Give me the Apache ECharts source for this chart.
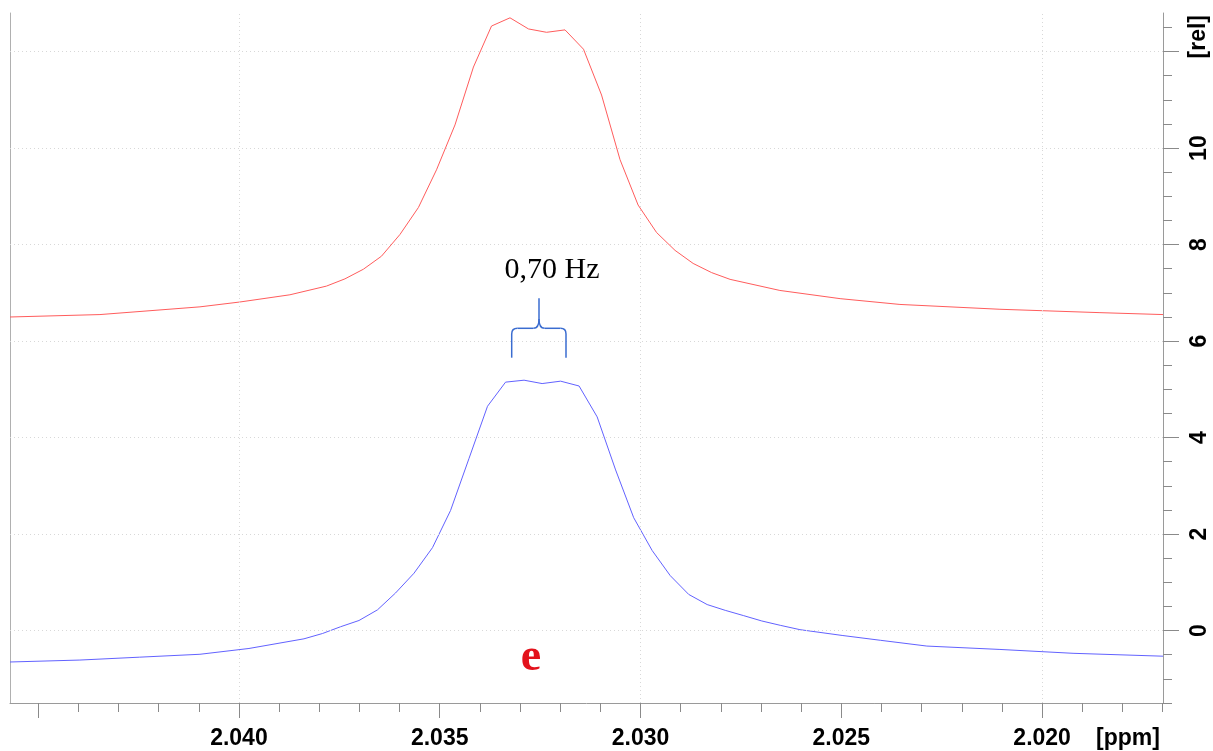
<!DOCTYPE html>
<html>
<head>
<meta charset="utf-8">
<script src="https://cdn.jsdelivr.net/npm/echarts@6/dist/echarts.min.js"></script>
<style>
html,body{margin:0;padding:0;background:#fff;}
#chart{width:1213px;height:751px;}
</style>
</head>
<body>
<div id="chart"></div>
<script>
// ---- data (ppm, relative intensity) ----
const ppmRed = [2.04570, 2.04346, 2.04097, 2.03998, 2.03873, 2.03782, 2.03736, 2.03690, 2.03645, 2.03599,
  2.03553, 2.03508, 2.03462, 2.03416, 2.03371, 2.03325, 2.03279, 2.03234, 2.03188, 2.03142,
  2.03097, 2.03051, 2.03006, 2.02960, 2.02914, 2.02869, 2.02823, 2.02777, 2.02653, 2.02503,
  2.02354, 2.02105, 2.01856, 2.01699];
const valRed = [6.50, 6.55, 6.71, 6.81, 6.96, 7.14, 7.29, 7.49, 7.76, 8.21,
  8.77, 9.55, 10.48, 11.68, 12.53, 12.70, 12.47, 12.40, 12.45, 12.05,
  11.10, 9.76, 8.82, 8.25, 7.88, 7.61, 7.42, 7.28, 7.05, 6.88,
  6.76, 6.66, 6.59, 6.55];

const ppmBlue = [2.04570, 2.04396, 2.04247, 2.04097, 2.03975, 2.03838, 2.03792, 2.03747, 2.03701, 2.03655,
  2.03610, 2.03564, 2.03518, 2.03473, 2.03427, 2.03381, 2.03336, 2.03290, 2.03245, 2.03199,
  2.03153, 2.03108, 2.03062, 2.03017, 2.02971, 2.02926, 2.02880, 2.02834, 2.02789, 2.02743,
  2.02698, 2.02652, 2.02603, 2.02498, 2.02403, 2.02287, 2.02105, 2.01923, 2.01699];
const valBlue = [-0.65, -0.61, -0.55, -0.49, -0.37, -0.17, -0.06, 0.08, 0.21, 0.43,
  0.78, 1.19, 1.72, 2.49, 3.57, 4.65, 5.15, 5.19, 5.12, 5.17,
  5.07, 4.43, 3.33, 2.34, 1.66, 1.14, 0.75, 0.54, 0.42, 0.31,
  0.20, 0.11, 0.02, -0.10, -0.20, -0.32, -0.39, -0.47, -0.53];

const xMajorTicks = [2.045, 2.040, 2.035, 2.030, 2.025, 2.020];
const xLabelValues = [2.040, 2.035, 2.030, 2.025, 2.020];
const xMinorTicks = [2.045, 2.044, 2.043, 2.042, 2.041, 2.040, 2.039, 2.038, 2.037, 2.036, 2.035,
  2.034, 2.033, 2.032, 2.031, 2.030, 2.029, 2.028, 2.027, 2.026, 2.025,
  2.024, 2.023, 2.022, 2.021, 2.020, 2.019, 2.018, 2.017];
const yMajorTicks = [0, 2, 4, 6, 8, 10, 12];
const yLabelValues = [0, 2, 4, 6, 8, 10];
const yMinorTicks = [-1.5, -1, -0.5, 0, 0.5, 1, 1.5, 2, 2.5, 3, 3.5, 4, 4.5, 5, 5.5, 6, 6.5, 7, 7.5,
  8, 8.5, 9, 9.5, 10, 10.5, 11, 11.5, 12, 12.5];

const X_MIN = 2.01699, X_MAX = 2.04570, Y_MIN = -1.5, Y_MAX = 12.8;

const zip = (a, b) => a.map((v, i) => [v, b[i]]);

const chart = echarts.init(document.getElementById('chart'), null, {renderer: 'canvas'});
const axisColor = '#9a9a9a';
const tickColor = '#8a8a8a';
const labelFont = {fontFamily: '"Liberation Sans", Arial, sans-serif', fontWeight: 'bold', fontSize: 23, color: '#000'};

const option = {
  animation: false,
  backgroundColor: '#fff',
  grid: {left: 10, right: 50, top: 13, bottom: 48, containLabel: false},
  xAxis: [
    {
      type: 'value', inverse: true, min: X_MIN, max: X_MAX, position: 'bottom',
      axisLine: {show: true, onZero: false, lineStyle: {color: axisColor, width: 1}},
      axisTick: {show: true, customValues: xMajorTicks, length: 15, lineStyle: {color: tickColor}},
      axisLabel: Object.assign({show: true, customValues: xLabelValues, margin: 24,
        formatter: v => Number(v).toFixed(3)}, labelFont),
      splitLine: {show: false}
    },
    {
      type: 'value', inverse: true, min: X_MIN, max: X_MAX, position: 'bottom',
      axisLine: {show: false, onZero: false},
      axisTick: {show: true, customValues: xMinorTicks, length: 9, lineStyle: {color: tickColor}},
      axisLabel: {show: false},
      splitLine: {show: false}
    }
  ],
  yAxis: [
    {
      type: 'value', min: Y_MIN, max: Y_MAX, position: 'right',
      axisLine: {show: true, onZero: false, lineStyle: {color: axisColor, width: 1}},
      axisTick: {show: true, customValues: yMajorTicks, length: 16, lineStyle: {color: tickColor}},
      axisLabel: Object.assign({show: true, customValues: yLabelValues, margin: 25, rotate: 90,
        formatter: v => String(v)}, labelFont),
      splitLine: {show: false}
    },
    {
      type: 'value', min: Y_MIN, max: Y_MAX, position: 'right',
      axisLine: {show: false, onZero: false},
      axisTick: {show: true, customValues: yMinorTicks, length: 9, lineStyle: {color: tickColor}},
      axisLabel: {show: false},
      splitLine: {show: false}
    },
    {
      type: 'value', min: Y_MIN, max: Y_MAX, position: 'left',
      axisLine: {show: true, onZero: false, lineStyle: {color: '#b0b0b0', width: 1}},
      axisTick: {show: false},
      axisLabel: {show: false},
      splitLine: {show: false}
    }
  ],
  series: [
    {
      name: 'grid', type: 'line', data: [], xAxisIndex: 0, yAxisIndex: 0, z: 1,
      markLine: {
        silent: true, symbol: ['none', 'none'], animation: false,
        label: {show: false},
        lineStyle: {type: [1, 3], color: '#d8d8d8', width: 1},
        emphasis: {disabled: true},
        data: xMajorTicks.map(v => ({xAxis: v})).concat(yMajorTicks.map(v => ({yAxis: v})))
      }
    },
    {
      name: 'upper', type: 'line', data: zip(ppmRed, valRed), xAxisIndex: 0, yAxisIndex: 0,
      symbol: 'none', showSymbol: false, z: 3,
      lineStyle: {color: '#ff5c5c', width: 1}
    },
    {
      name: 'lower', type: 'line', data: zip(ppmBlue, valBlue), xAxisIndex: 0, yAxisIndex: 0,
      symbol: 'none', showSymbol: false, z: 3,
      lineStyle: {color: '#6262ff', width: 1}
    }
  ],
  graphic: [
    {type: 'text', left: 1187, top: 15, rotation: Math.PI / 2, z: 10,
      style: {text: '[rel]', font: 'bold 23px "Liberation Sans", Arial, sans-serif', fill: '#000'}},
    {type: 'text', x: 1128, y: 739, z: 10,
      style: {text: '[ppm]', font: 'bold 23px "Liberation Sans", Arial, sans-serif', fill: '#000', align: 'center', verticalAlign: 'middle'}},
    {type: 'text', x: 552, y: 270, z: 10,
      style: {text: '0,70 Hz', font: '30px "Liberation Serif", "Times New Roman", serif', fill: '#000', align: 'center', verticalAlign: 'middle'}},
    {type: 'text', x: 531, y: 658, z: 10,
      style: {text: 'e', font: 'bold 46px "Liberation Serif", "Times New Roman", serif', fill: '#e3121c', align: 'center', verticalAlign: 'middle'}},
    // brace
    {type: 'line', z: 10, shape: {x1: 511.7, y1: 357.7, x2: 511.7, y2: 334}, style: {stroke: '#3a6cd0', lineWidth: 1.5}},
    {type: 'bezierCurve', z: 10, shape: {x1: 511.7, y1: 334, x2: 517.5, y2: 328.3, cpx1: 511.7, cpy1: 328.3}, style: {stroke: '#3a6cd0', lineWidth: 1.5, fill: null}},
    {type: 'line', z: 10, shape: {x1: 517.5, y1: 328.3, x2: 533.5, y2: 328.3}, style: {stroke: '#3a6cd0', lineWidth: 1.5}},
    {type: 'bezierCurve', z: 10, shape: {x1: 533.5, y1: 328.3, x2: 539, y2: 319, cpx1: 539, cpy1: 328.3}, style: {stroke: '#3a6cd0', lineWidth: 1.5, fill: null}},
    {type: 'line', z: 10, shape: {x1: 539, y1: 319, x2: 539, y2: 298.3}, style: {stroke: '#3a6cd0', lineWidth: 1.5}},
    {type: 'bezierCurve', z: 10, shape: {x1: 539, y1: 319, x2: 544.5, y2: 328.3, cpx1: 539, cpy1: 328.3}, style: {stroke: '#3a6cd0', lineWidth: 1.5, fill: null}},
    {type: 'line', z: 10, shape: {x1: 544.5, y1: 328.3, x2: 560.5, y2: 328.3}, style: {stroke: '#3a6cd0', lineWidth: 1.5}},
    {type: 'bezierCurve', z: 10, shape: {x1: 560.5, y1: 328.3, x2: 566, y2: 334, cpx1: 566, cpy1: 328.3}, style: {stroke: '#3a6cd0', lineWidth: 1.5, fill: null}},
    {type: 'line', z: 10, shape: {x1: 566, y1: 334, x2: 566, y2: 357.7}, style: {stroke: '#3a6cd0', lineWidth: 1.5}}
  ]
};
chart.setOption(option);
</script>
</body>
</html>
